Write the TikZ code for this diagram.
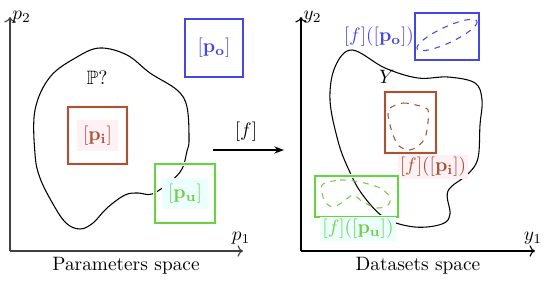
\documentclass[tikz,border=0pt]{standalone}
\usepackage{amsmath,amssymb}
\usetikzlibrary{arrows.meta}
\definecolor{ensbleu}{RGB}{70,70,225}
\definecolor{ensrouge}{RGB}{165,85,50}
\definecolor{ensvert}{RGB}{115,205,65}
\definecolor{fondrose}{RGB}{255,240,245}
\definecolor{fondcyan}{RGB}{236,255,255}
\tikzset{
  axe/.style={->, line width=0.55pt},
  ensemble/.style={draw, line width=0.6pt, minimum width=#1*0.517pt, inner sep=0pt},
  contour/.style={line width=0.55pt, black},
  image/.style={dashed, line width=0.55pt},
}
\begin{document}
\begin{tikzpicture}[x=0.517pt, y=-0.517pt]
    \useasboundingbox (0,0) rectangle (550,282);
    % espace des parametres
    \coordinate (o1) at (10,251);
    \coordinate (p1) at (243,251);
    \coordinate (p2) at (10,17);
    \draw[axe, black!75] (o1) -- (p1);
    \draw[axe, black!75] (o1) -- (p2);
    \node[right, inner sep=1pt] (lp2) at (p2) {$p_2$};
    \node (lp1) at (241,238) {$p_1$};
    \node (lpar) at (126,266) {Parameters space};
    % ensemble P
    \draw[contour] plot[smooth cycle, tension=0.6] coordinates {(100,48) (127,55) (150,73) (177,90) (187,107) (189,140) (187,151) (182,169) (170,182) (152,194) (138,193) (125,195) (107,208) (93,223) (80,229) (66,223) (53,204) (40,178) (35,154) (35,110) (50,77) (77,57)};
    \node (lP) at (97,78) {$\mathbb{P}?$};
    % boites
    \node[ensemble=58, minimum height=58*0.517pt, draw=ensbleu, text=ensbleu] (po) at (214,48) {$[\mathbf{p_o}]$};
    \node[ensemble=59, minimum height=57*0.517pt, draw=ensrouge, text=ensrouge, preaction={draw=fondrose, line width=2.5pt}] (pi) at (97.5,135.5) {\colorbox{fondrose}{$[\mathbf{p_i}]$}};
    \node[ensemble=60, minimum height=59*0.517pt, draw=ensvert, text=ensvert, preaction={draw=fondcyan, line width=2.5pt}] (pu) at (185,193.5) {\colorbox{fondcyan}{$[\mathbf{p_u}]$}};
    % fleche [f]
    \coordinate (fa) at (213,150);
    \coordinate (fb) at (284,150);
    \draw[-{Stealth[length=5pt]}, thick] (fa) -- (fb);
    \node (lf) at (246,132) {$[f]$};
    % espace des donnees
    \coordinate (o2) at (301,251);
    \coordinate (y1) at (535,251);
    \coordinate (y2) at (301,17);
    \draw[axe] (o2) -- (y1);
    \draw[axe] (o2) -- (y2);
    \node[right, inner sep=1pt] (ly2) at (y2) {$y_2$};
    \node (ly1) at (533,238) {$y_1$};
    \node (ldat) at (418,266) {Datasets space};
    % ensemble Y
    \draw[contour] plot[smooth cycle, tension=0.6] coordinates {(352,50) (385,68) (418,78) (448,77) (475,83) (482,100) (480,125) (478,158) (468,174) (448,191) (450,214) (442,224) (415,227) (385,218) (362,194) (348,168) (338,141) (330,100) (335,67)};
    \node (lY) at (387,77) {$Y$};
    % image de po
    \node[ensemble=64, minimum height=47*0.517pt, draw=ensbleu] (fpo) at (447,36.5) {};
    \draw[image, ensbleu, rotate around={25:(447,35)}] (447,35) ellipse [x radius=33, y radius=8];
    \node[left, text=ensbleu, inner sep=0pt] (lfpo) at (fpo.west) {$[f]([\mathbf{p_o}])$};
    % image de pi
    \node[ensemble=51, minimum height=61*0.517pt, draw=ensrouge, preaction={draw=fondrose, line width=2.5pt}] (fpi) at (410.5,122.5) {};
    \draw[image, ensrouge] plot[smooth cycle] coordinates {(390,108) (403,103) (420,106) (428,110) (428,122) (425,138) (417,147) (408,150) (398,145) (392,132) (388,115)};
    \node[fill=fondrose, text=ensrouge, inner sep=1pt] (lfpi) at (433,167) {$[f]([\mathbf{p_i}])$};
    % image de pu
    \node[ensemble=83, minimum height=41*0.517pt, draw=ensvert, preaction={draw=fondcyan, line width=2.5pt}] (fpu) at (356.5,196.5) {};
    \draw[image, ensvert] plot[smooth cycle] coordinates {(323,184) (340,180) (360,182) (380,188) (390,197) (388,205) (377,208) (363,202) (353,195) (343,202) (333,207) (325,202) (322,192)};
    \node[fill=fondcyan, text=ensvert, inner sep=1pt] (lfpu) at (358,229) {$[f]([\mathbf{p_u}])$};
\end{tikzpicture}
\end{document}
